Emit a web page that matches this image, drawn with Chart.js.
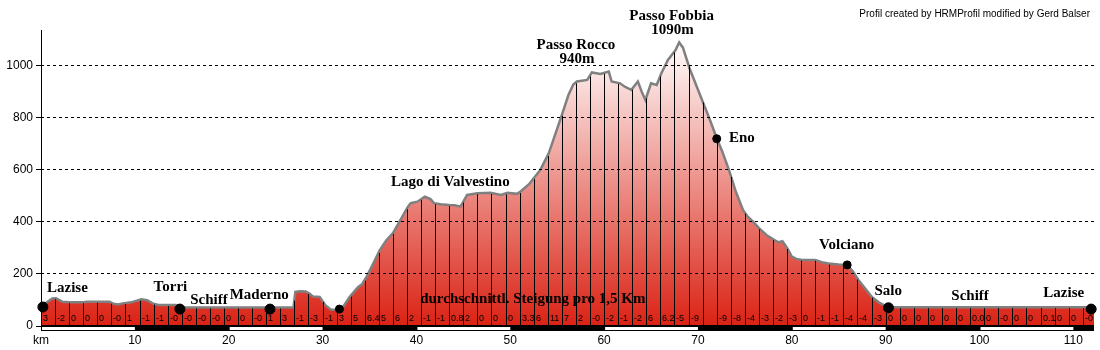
<!DOCTYPE html>
<html>
<head>
<meta charset="utf-8">
<script src="https://cdn.jsdelivr.net/npm/chart.js@4"></script>
<style>
  body { margin: 0; background: #fff; }
</style>
</head>
<body>
<canvas id="profil" width="1100" height="350"></canvas>
<script>
// Höhenprofil Lazise - Passo Fobbia - Lazise (km / Höhe in m)
var km = [0, 0.6, 1.2, 1.6, 2.3, 3.0, 4.6, 4.9, 7.3, 7.7, 8.2, 8.7, 9.6, 10.2, 10.7, 11.3, 11.9, 12.5, 14.4, 14.8,
  15.4, 26.9, 27.1, 27.6, 28.2, 28.6, 29.0, 29.7, 30.3, 30.9, 31.6, 32.2, 32.9, 33.8, 34.2, 34.7, 35.4, 36.1, 36.8, 37.5,
  38.2, 39.1, 39.4, 40.1, 40.9, 41.5, 41.9, 42.6, 43.5, 44.1, 44.7, 45.4, 46.5, 47.9, 49.0, 49.7, 50.7, 51.1, 52.0, 52.5,
  53.2, 54.1, 55.5, 56.2, 56.7, 57.1, 58.2, 58.7, 59.6, 60.5, 60.8, 61.7, 62.2, 62.9, 63.6, 64.0, 64.4, 65.0, 65.6, 66.1,
  66.8, 67.6, 68.0, 68.4, 69.1, 70.5, 71.3, 72.0, 72.6, 73.3, 74.0, 74.8, 75.3, 75.9, 76.5, 77.3, 78.1, 78.6, 79.0, 79.5,
  80.0, 80.5, 81.1, 82.5, 83.2, 83.9, 85.0, 85.9, 86.5, 87.1, 87.8, 88.5, 89.3, 90.3, 112.2];
var hoehe = [74, 90, 106, 107, 93, 91, 91, 93, 93, 86, 83, 87, 91, 97, 103, 99, 87, 81, 81, 74,
  71, 71, 131, 134, 133, 125, 113, 112, 80, 63, 62, 74, 112, 150, 160, 190, 240, 292, 330, 357,
  401, 459, 472, 478, 497, 488, 472, 468, 465, 464, 459, 504, 510, 512, 504, 512, 508, 517, 545, 568,
  600, 664, 812, 888, 927, 940, 946, 975, 969, 978, 940, 933, 920, 908, 940, 901, 869, 933, 927, 972,
  1023, 1060, 1090, 1070, 991, 863, 790, 722, 670, 600, 520, 446, 420, 400, 376, 350, 331, 322, 326, 300,
  267, 258, 254, 254, 245, 240, 236, 235, 210, 177, 145, 113, 90, 72, 72];

// Orte mit Punkt
var orte = ['Lazise', 'Torri', 'Maderno', '', 'Eno', 'Volciano', 'Salo', 'Lazise'];
var orteKm = [0.2, 14.8, 24.4, 31.8, 72.0, 85.9, 90.3, 111.9];
var orteHoehe = [73, 65, 65, 65, 720, 235, 70, 65];

// durchschnittliche Steigung je 1,5 km
var abschnitt = 1.5;
var steigung = ['3', '-2', '0', '0', '0', '-0', '1', '-1', '-1', '-0', '-0', '-0', '-0', '0', '0', '-0', '1', '3', '-1', '-3',
  '-1', '3', '5', '6.4', '5', '6', '2', '-1', '-1', '0.8', '2', '0', '0', '0', '3.3', '6', '11', '7', '2', '-0',
  '-2', '-1', '-2', '6', '6.2', '-5', '-9', '', '-9', '-8', '-4', '-3', '-2', '-3', '0', '-1', '-1', '-4', '-4', '-3',
  '0', '0', '0', '0', '0', '0', '0.0', '0', '-0', '0', '0', '0.1', '0', '0', '-0'];

var kmTicks = [0, 10, 20, 30, 40, 50, 60, 70, 80, 90, 100, 110];
var hoeheTicks = [0, 200, 400, 600, 800, 1000];

// Beschriftungen (km / m des Textankers)
var texte = [
  { t: 'Lazise', km: 0.64, m: 146, a: 'left' },
  { t: 'Torri', km: 12.0, m: 150, a: 'left' },
  { t: 'Schiff', km: 15.9, m: 100, a: 'left' },
  { t: 'Maderno', km: 20.1, m: 119, a: 'left' },
  { t: 'Lago di Valvestino', km: 37.3, m: 554, a: 'left' },
  { t: 'Passo Rocco', km: 57.0, m: 1081, a: 'center' },
  { t: '940m', km: 57.1, m: 1027, a: 'center' },
  { t: 'Passo Fobbia', km: 67.2, m: 1192, a: 'center' },
  { t: '1090m', km: 67.3, m: 1138, a: 'center' },
  { t: 'Eno', km: 73.3, m: 723, a: 'left' },
  { t: 'Volciano', km: 82.9, m: 312, a: 'left' },
  { t: 'Salo', km: 88.8, m: 135, a: 'left' },
  { t: 'Schiff', km: 97.0, m: 115, a: 'left' },
  { t: 'Lazise', km: 106.8, m: 127, a: 'left' },
  { t: 'durchschnittl. Steigung pro 1,5 Km', km: 40.4, m: 104, a: 'left' }
];

function hoeheBei(k) {
  for (var i = 1; i < km.length; i++) {
    if (k <= km[i]) {
      var f = (k - km[i - 1]) / (km[i] - km[i - 1]);
      return hoehe[i - 1] + f * (hoehe[i] - hoehe[i - 1]);
    }
  }
  return hoehe[hoehe.length - 1];
}

var profilPunkte = km.map(function (k, i) { return { x: k, y: hoehe[i] }; });
var ortPunkte = orteKm.map(function (k, i) { return { x: k, y: orteHoehe[i] }; });

// senkrechte Linien und Steigungswerte je Abschnitt
var abschnitte = {
  id: 'abschnitte',
  afterDatasetDraw: function (chart, args) {
    if (args.index !== 1) return;
    var x = chart.scales.x, y = chart.scales.y, ctx = chart.ctx;
    var y0 = y.getPixelForValue(0);
    ctx.save();
    ctx.strokeStyle = '#000';
    ctx.lineWidth = 1;
    ctx.beginPath();
    for (var i = 1; i < steigung.length; i++) {
      var k = i * abschnitt;
      var px = Math.round(x.getPixelForValue(k)) + 0.5;
      ctx.moveTo(px, y0);
      ctx.lineTo(px, y.getPixelForValue(hoeheBei(k)) + 1);
    }
    ctx.stroke();
    ctx.fillStyle = '#000';
    ctx.font = '9px "Liberation Sans"';
    ctx.textBaseline = 'middle';
    steigung.forEach(function (s, i) {
      ctx.fillText(s, Math.round(x.getPixelForValue(i * abschnitt)) + 2, y0 - 7);
    });
    ctx.restore();
  }
};

// Höhenachse, km-Balken, Ortsnamen und Vermerk
var rahmen = {
  id: 'rahmen',
  afterDraw: function (chart) {
    var x = chart.scales.x, y = chart.scales.y, ctx = chart.ctx, a = chart.chartArea;
    ctx.save();
    ctx.strokeStyle = '#000';
    ctx.lineWidth = 1;
    ctx.beginPath();
    ctx.moveTo(Math.round(a.left) + 0.5, a.top);
    ctx.lineTo(Math.round(a.left) + 0.5, a.bottom);
    ctx.stroke();

    ctx.fillStyle = '#000';
    ctx.fillRect(a.left, a.bottom - 1, a.right - a.left, 6);
    ctx.fillStyle = '#fff';
    for (var k = 0; k < x.max; k += 20) {
      var x1 = x.getPixelForValue(k), x2 = x.getPixelForValue(Math.min(k + 10, x.max));
      ctx.fillRect(x1 + 1, a.bottom + 1, x2 - x1 - 1, 3);
    }
    ctx.fillStyle = '#000';
    ctx.font = 'bold 15px "Liberation Serif"';
    ctx.textBaseline = 'middle';
    texte.forEach(function (l) {
      ctx.textAlign = l.a;
      ctx.fillText(l.t, x.getPixelForValue(l.km), y.getPixelForValue(l.m));
    });
    ctx.font = '10px "Liberation Sans"';
    ctx.textAlign = 'right';
    ctx.fillText('Profil created by HRMProfil modified by Gerd Balser', 1090, 14);
    ctx.restore();
  }
};

var ctx = document.getElementById('profil').getContext('2d');
Chart.defaults.color = '#000';
Chart.defaults.font.family = '"Liberation Sans", Arial, sans-serif';

var chart = new Chart(ctx, {
  type: 'line',
  data: {
    datasets: [{
      type: 'scatter',
      data: ortPunkte,
      backgroundColor: '#000',
      borderColor: '#000',
      pointRadius: [5, 5, 5, 4, 4, 4, 5, 5],
      pointHoverRadius: 0,
      clip: false
    }, {
      data: profilPunkte,
      borderColor: '#808080',
      borderWidth: 2.5,
      pointRadius: 0,
      tension: 0,
      fill: 'origin',
      backgroundColor: function (c) {
        var area = c.chart.chartArea;
        if (!area) return '#dc2416';
        var y = c.chart.scales.y;
        var g = c.chart.ctx.createLinearGradient(0, y.getPixelForValue(0), 0, y.getPixelForValue(1100));
        g.addColorStop(0, 'rgb(218, 34, 20)');
        g.addColorStop(1, 'rgb(255, 255, 255)');
        return g;
      }
    }]
  },
  options: {
    responsive: false,
    animation: false,
    devicePixelRatio: 1,
    layout: { padding: { top: 30, right: 0, left: 0, bottom: 0 } },
    plugins: { legend: { display: false }, tooltip: { enabled: false } },
    scales: {
      x: {
        type: 'linear',
        min: 0,
        max: 112.2,
        afterBuildTicks: function (s) { s.ticks = kmTicks.map(function (v) { return { value: v }; }); },
        afterFit: function (s) { s.height = 24; },
        grid: { display: false, drawTicks: false },
        border: { display: false },
        ticks: {
          padding: 7,
          maxRotation: 0,
          font: { size: 12 },
          callback: function (v) { return v === 0 ? 'km' : String(v); }
        }
      },
      y: {
        min: 0,
        max: 1138,
        afterBuildTicks: function (s) { s.ticks = hoeheTicks.map(function (v) { return { value: v }; }); },
        afterFit: function (s) { s.width = 41; },
        grid: { color: '#000', z: 1, tickLength: 5, tickColor: '#000', tickBorderDash: [] },
        border: { display: false, dash: [3, 3] },
        ticks: {
          padding: 3,
          font: { size: 12 },
          callback: function (v) { return String(v); }
        }
      }
    }
  },
  plugins: [abschnitte, rahmen]
});
</script>
</body>
</html>
